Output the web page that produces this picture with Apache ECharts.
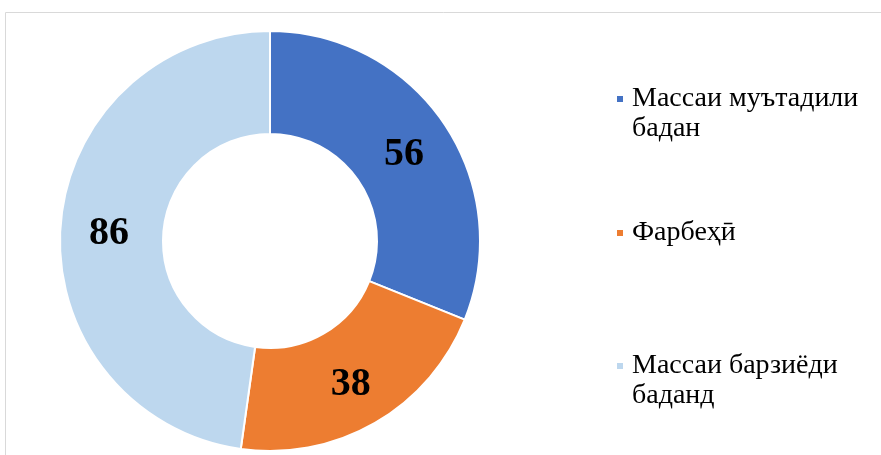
<!DOCTYPE html>
<html>
<head>
<meta charset="utf-8">
<script src="https://cdn.jsdelivr.net/npm/echarts@6/dist/echarts.min.js"></script>
<style>
  html, body { margin: 0; padding: 0; background: #fff; }
  #chart { width: 881px; height: 455px; }
</style>
</head>
<body>
<div id="chart"></div>
<script>
// данные
const names = ['Массаи муътадили\nбадан', 'Фарбеҳӣ', 'Массаи барзиёди\nбаданд']
const values = [56, 38, 86]
const colors = ['#4472C4', '#ED7D31', '#BDD7EE']

const fontFamily = '"Liberation Serif", "Times New Roman", "DejaVu Serif", serif'
const lineH = 30

// по одной легенде на пункт, маркер у первой строки
const iconY = [99, 233, 366]
const legends = names.map((n, i) => {
  const twoLines = n.indexOf('\n') >= 0
  return {
    data: [n],
    left: 615,
    top: iconY[i] - (twoLines ? lineH * 1.5 : lineH / 2),
    orient: 'vertical',
    icon: 'rect',
    itemWidth: 8,
    itemHeight: 8,
    itemGap: 0,
    padding: 0,
    selectedMode: false,
    // пустая строка сверху — тогда маркер по центру первой строки
    formatter: name => twoLines ? '\n' + name : name,
    textStyle: {
      fontFamily: fontFamily,
      fontSize: 28,
      color: '#000',
      lineHeight: lineH,
      padding: [0, 0, 0, 3]
    }
  }
})

const chart = echarts.init(document.getElementById('chart'))
chart.setOption({
  animation: false,
  color: colors,
  legend: legends,
  graphic: [{
    type: 'rect',
    shape: { x: 5.5, y: 12.5, width: 900, height: 500 },
    style: { fill: 'none', stroke: '#d9d9d9', lineWidth: 1 },
    silent: true
  }],
  series: [{
    type: 'pie',
    center: [270, 241],
    radius: [107, 210],
    startAngle: 90,
    clockwise: true,
    avoidLabelOverlap: false,
    itemStyle: { borderColor: '#fff', borderWidth: 2 },
    label: {
      show: true,
      position: 'inside',
      formatter: '{c}',
      fontFamily: fontFamily,
      fontSize: 40,
      fontWeight: 'bold',
      color: '#000',
      offset: [0, 4]
    },
    labelLine: { show: false },
    emphasis: { disabled: true },
    data: names.map((n, i) => ({ name: n, value: values[i] }))
  }]
})
</script>
</body>
</html>
